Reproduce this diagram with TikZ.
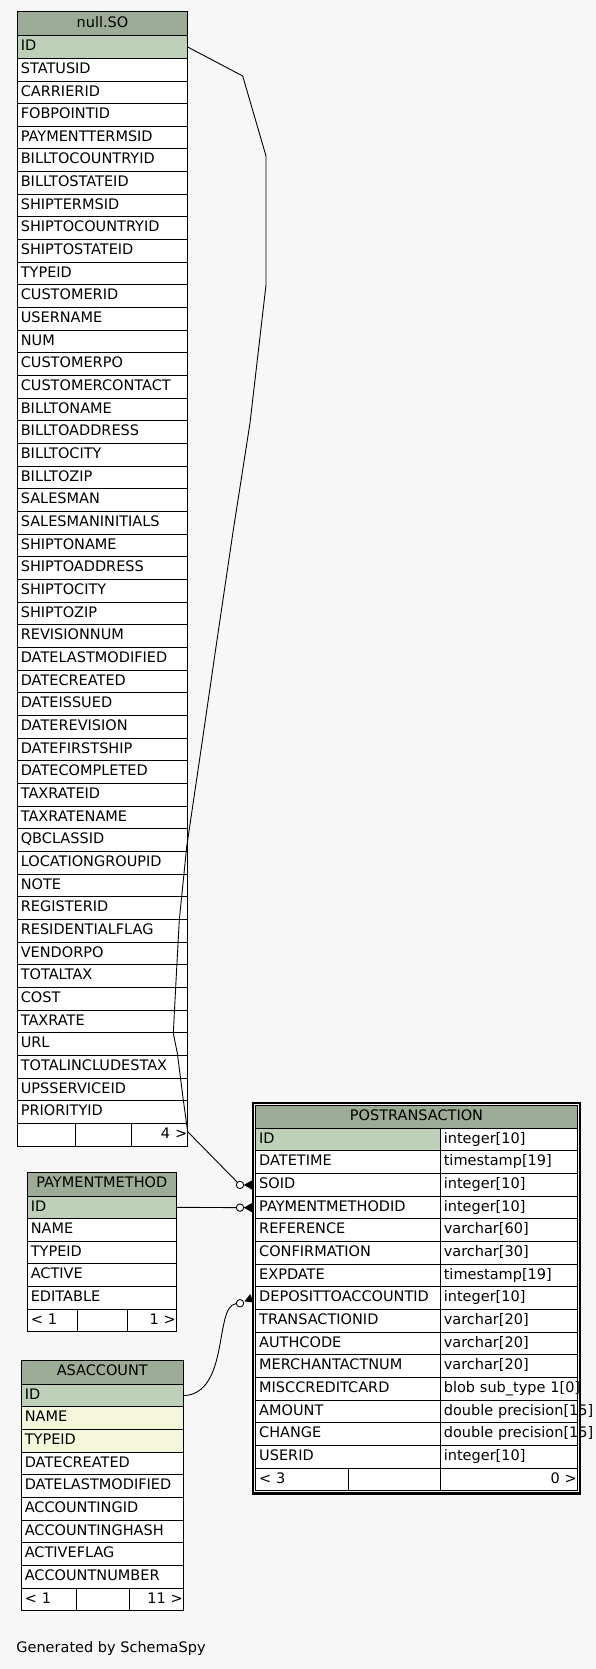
\documentclass[tikz,border=0pt]{standalone}
\usepackage{fontspec}
\setmainfont{DejaVu Sans}
\usetikzlibrary{calc,fit}
\definecolor{headgreen}{HTML}{9BAB96}
\definecolor{keygreen}{HTML}{BED1B8}
\definecolor{idxyellow}{HTML}{F4F7DA}
\definecolor{pagegrey}{HTML}{F7F7F7}

\begin{document}
\begin{tikzpicture}[
    x=1pt, y=-1pt,
    font=\fontsize{14.5}{17}\selectfont,
    cell/.style={rectangle, draw, line width=1pt, fill=white, outer sep=0pt,
        inner xsep=3.5pt, inner ysep=0pt, minimum height=22.66pt,
        text height=11pt, text depth=3.67pt, anchor=north west,
        text width=#1, align=left},
    headcell/.style={cell=#1, fill=headgreen, align=center, minimum height=23.7pt},
    keycell/.style={cell=#1, fill=keygreen},
    idxcell/.style={cell=#1, fill=idxyellow},
    footcell/.style={cell=#1, inner xsep=0.5pt, align=right},
    link/.style={line width=0.9pt},
    ring/.style={circle, draw, fill=white, line width=0.9pt, inner sep=0pt, minimum size=7.4pt}
]

% page
\fill[pagegrey] (0,0) rectangle (596,1669);
\useasboundingbox (0,0) rectangle (596,1669);

% null.SO (left column, top)
\node[headcell=163.4pt] (so-head) at (17.3,12) {null.SO};
\node[keycell=163.4pt] (so-id) at (17.3,35.7) {ID};
\foreach \col [count=\i] in {STATUSID, CARRIERID, FOBPOINTID, PAYMENTTERMSID,
    BILLTOCOUNTRYID, BILLTOSTATEID, SHIPTERMSID, SHIPTOCOUNTRYID, SHIPTOSTATEID,
    TYPEID, CUSTOMERID, USERNAME, NUM, CUSTOMERPO, CUSTOMERCONTACT, BILLTONAME,
    BILLTOADDRESS, BILLTOCITY, BILLTOZIP, SALESMAN, SALESMANINITIALS, SHIPTONAME,
    SHIPTOADDRESS, SHIPTOCITY, SHIPTOZIP, REVISIONNUM, DATELASTMODIFIED,
    DATECREATED, DATEISSUED, DATEREVISION, DATEFIRSTSHIP, DATECOMPLETED,
    TAXRATEID, TAXRATENAME, QBCLASSID, LOCATIONGROUPID, NOTE, REGISTERID,
    RESIDENTIALFLAG, VENDORPO, TOTALTAX, COST, TAXRATE, URL, TOTALINCLUDESTAX,
    UPSSERVICEID, PRIORITYID} {
    \node[cell=163.4pt] (so-\i) at (17.3, {35.7+\i*22.66}) {\col};
}
\node[cell=51.4pt] (sof-1) at (17.3,1123.4) {};
\node[cell=49pt] (sof-2) at (75.7,1123.4) {};
\node[footcell=55pt] (sof-3) at (131.7,1123.4) {4 >};

% PAYMENTMETHOD
\node[headcell=142pt] (pm-head) at (27.3,1172.3) {PAYMENTMETHOD};
\node[keycell=142pt] (pm-id) at (27.3,1196) {ID};
\foreach \col [count=\i] in {NAME, TYPEID, ACTIVE, EDITABLE} {
    \node[cell=142pt] (pm-\i) at (27.3, {1196+\i*22.66}) {\col};
}
\node[cell=43pt] (pmf-1) at (27.3,1309.3) {< 1};
\node[cell=43.4pt] (pmf-2) at (77.3,1309.3) {};
\node[footcell=47.6pt] (pmf-3) at (127.7,1309.3) {1 >};

% ASACCOUNT
\node[headcell=155pt] (as-head) at (21.3,1360.3) {ASACCOUNT};
\node[keycell=155pt] (as-id) at (21.3,1384.3) {ID};
\node[idxcell=155pt] (as-1) at (21.3,1406.96) {NAME};
\node[idxcell=155pt] (as-2) at (21.3,1429.62) {TYPEID};
\foreach \col [count=\i from 3] in {DATECREATED, DATELASTMODIFIED, ACCOUNTINGID,
    ACCOUNTINGHASH, ACTIVEFLAG, ACCOUNTNUMBER} {
    \node[cell=155pt] (as-\i) at (21.3, {1384.3+\i*22.66}) {\col};
}
\node[cell=48pt] (asf-1) at (21.3,1588.2) {< 1};
\node[cell=46pt] (asf-2) at (76.3,1588.2) {};
\node[footcell=53pt] (asf-3) at (129.3,1588.2) {11 >};

% POSTRANSACTION (right, two columns)
\node[headcell=314.6pt, minimum height=22.6pt] (pt-head) at (255.7,1105.7) {POSTRANSACTION};
\node[keycell=177.6pt] (pt-id) at (255.7,1128.3) {ID};
\node[cell=130pt] (ptt-id) at (440.3,1128.3) {integer[10]};
\foreach \col/\typ [count=\i] in {DATETIME/timestamp[19], SOID/integer[10],
    PAYMENTMETHODID/integer[10], REFERENCE/varchar[60], CONFIRMATION/varchar[30],
    EXPDATE/timestamp[19], DEPOSITTOACCOUNTID/integer[10], TRANSACTIONID/varchar[20],
    AUTHCODE/varchar[20], MERCHANTACTNUM/varchar[20],
    MISCCREDITCARD/blob sub\_type 1[0], AMOUNT/double precision[15],
    CHANGE/double precision[15], USERID/integer[10]} {
    \node[cell=177.6pt] (pt-\i) at (255.7, {1128.3+\i*22.66}) {\col};
    \node[cell=130pt] (ptt-\i) at (440.3, {1128.3+\i*22.66}) {\mbox{\typ}};
}
\node[cell=86pt] (ptf-1) at (255.7,1468.2) {< 3};
\node[cell=84.6pt] (ptf-2) at (348.7,1468.2) {};
\node[footcell=136pt] (ptf-3) at (440.3,1468.2) {0 >};

% ends of the links
\node[ring] (ring-so) at ($(pt-2.west)+(-15.7,0)$) {};
\node[ring] (ring-pm) at ($(pt-3.west)+(-15.7,0)$) {};
\node[ring] (ring-dep) at ($(pt-7.west)+(-15.7,5)$) {};
\coordinate (crow-so) at ($(pt-2.west)+(-3.7,0)$);
\coordinate (crow-pm) at ($(pt-3.west)+(-3.7,0)$);
\coordinate (crow-dep) at ($(pt-7.west)+(-3.7,0)$);

% links
\draw[link] (so-id.east) -- (242.7,76) -- (266,156) -- (266,285) -- (258,354)
    -- (250,423) -- (233,532) -- (217,640) -- (202,743) -- (186.7,846.7)
    -- (179.3,920) -- (175.7,986.7) -- (173.3,1033.3) -- (177.3,1053)
    -- (183.3,1100) -- (187.7,1131.7) -- (ring-so);
\draw[link] (pm-id.east) -- (ring-pm);
\draw[link] (as-id.east) .. controls (230,1394) and (214,1306) .. (ring-dep);

\foreach \ringname/\basename in {ring-so/crow-so, ring-pm/crow-pm, ring-dep/crow-dep} {
    \fill ($(\basename)!8.2pt!(\ringname.center)$) -- ($(\basename)!4.6pt!90:(\ringname.center)$)
        -- ($(\basename)!4.6pt!-90:(\ringname.center)$) -- cycle;
}

% thick frame of the focus table
\node[draw, line width=2.3pt, inner sep=2.6pt, fit=(pt-head)(ptf-3)] (pt-frame) {};

\node[anchor=base west, inner sep=0pt] (credit) at (16.2,1652.7) {Generated by SchemaSpy};

\end{tikzpicture}
\end{document}
